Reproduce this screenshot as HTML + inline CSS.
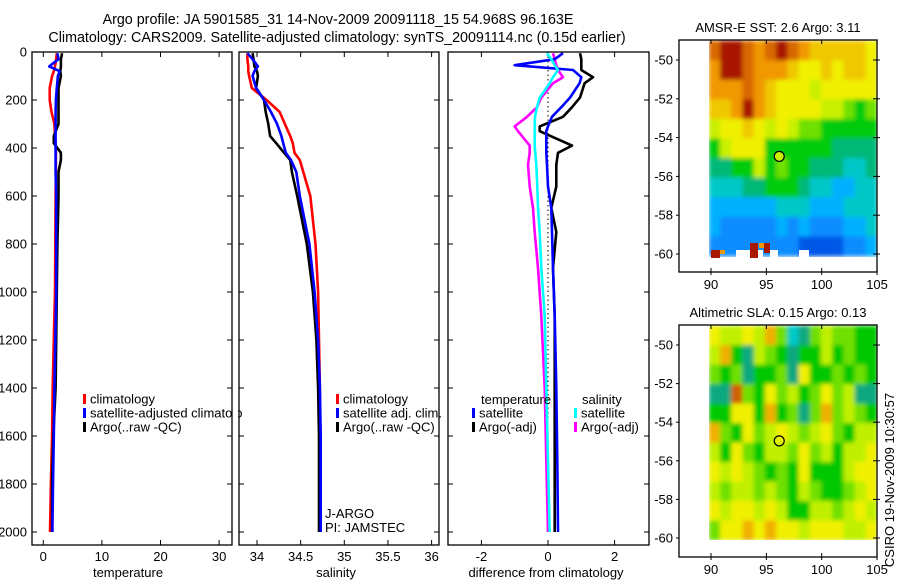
<!DOCTYPE html>
<html><head><meta charset="utf-8"><style>
body{margin:0;background:#fff}
svg{display:block;font-family:"Liberation Sans",sans-serif}
text{font-size:13px;fill:#000}
.ttl{font-size:14.3px}
</style></head><body>
<svg id="c" width="900" height="580" viewBox="0 0 900 580">
<defs>
<filter id="bl" x="0" y="0" width="1" height="1"><feGaussianBlur stdDeviation="2" edgeMode="duplicate"/></filter>
<clipPath id="cp1"><rect x="709" y="40" width="168" height="217"/></clipPath>
<clipPath id="cp2"><rect x="709" y="325" width="168" height="215"/></clipPath>
</defs>
<text class="ttl" x="338" y="24" text-anchor="middle">Argo profile: JA 5901585_31 14-Nov-2009 20091118_15 54.968S 96.163E</text>
<text class="ttl" x="337" y="42" text-anchor="middle">Climatology: CARS2009. Satellite-adjusted climatology: synTS_20091114.nc (0.15d earlier)</text>
</svg>
<script>
// ---- data ----
const depthTS = [5,30,60,80,100,150,200,250,300,350,380,420,450,500,600,800,1000,1200,1400,1600,1800,2000];
const tempClim = [2.3,2.2,2.0,1.8,1.5,1.1,1.1,1.4,1.9,2.0,2.1,2.15,2.15,2.15,2.1,2.05,2.0,1.8,1.6,1.5,1.3,1.15];
const tempSat  = [2.4,2.6,1.0,2.8,2.5,2.3,2.15,2.1,2.1,2.1,2.1,2.1,2.1,2.1,2.2,2.2,2.2,2.05,1.9,1.8,1.65,1.55];
const tempArgo = [3.2,3.0,3.0,2.9,3.0,2.6,2.6,2.6,2.6,1.8,1.8,3.0,3.0,2.6,2.6,2.4,2.3,2.2,2.1,1.7,1.5,1.5];
const salClim = [33.89,33.89,33.9,33.9,33.91,33.94,34.11,34.26,34.32,34.38,34.41,34.43,34.49,34.53,34.61,34.67,34.70,34.71,34.72,34.72,34.72,34.72];
const salSat  = [33.89,33.95,34.01,33.97,33.95,33.99,34.08,34.16,34.23,34.28,34.30,34.33,34.39,34.45,34.49,34.60,34.66,34.70,34.72,34.73,34.73,34.73];
const salArgo = [33.95,33.96,33.97,34.0,34.01,33.99,34.08,34.1,34.13,34.15,34.22,34.31,34.38,34.40,34.46,34.57,34.64,34.68,34.70,34.71,34.71,34.71];
const depthDiff = [5,30,55,75,105,130,190,230,270,310,330,390,420,470,560,650,750,900,1100,1400,1700,2000];
const diffTempSat  = [0.45,0.2,-1.0,0.75,1.0,0.95,0.66,0.4,0.12,0.0,-0.05,-0.05,-0.05,-0.03,0.0,0.1,0.12,0.15,0.2,0.25,0.28,0.3];
const diffTempArgo = [0.96,1.0,1.0,1.0,1.35,1.1,0.96,0.72,0.45,-0.25,-0.25,0.72,0.3,0.25,0.25,0.1,0.25,0.15,0.2,0.2,0.2,0.2];
const diffSalSat   = [-0.03,0.1,0.2,0.3,0.15,0.05,-0.25,-0.33,-0.39,-0.4,-0.4,-0.4,-0.38,-0.35,-0.32,-0.3,-0.25,-0.2,-0.1,-0.05,0.0,0.05];
const diffSalArgo  = [0.15,0.2,0.25,0.3,0.45,0.15,-0.2,-0.33,-0.63,-1.0,-0.9,-0.55,-0.55,-0.6,-0.55,-0.45,-0.4,-0.3,-0.2,-0.1,-0.05,0.0];
const depthTicks = [0,200,400,600,800,1000,1200,1400,1600,1800,2000];
const tempTicks = [0,10,20,30];
const salTicks = [34,34.5,35,35.5,36];
const salTickLabels = ["34","34.5","35","35.5","36"];
const diffTicks = [-2,0,2];
const lonTicks = [90,95,100,105];
const latTicks = [50,52,54,56,58,60];
const sstGrid = [
[11,12,12,11,10,11,12,11,10,9,9,9,9,9,8],
[10,12,12,11,10,10,10,9,8,8,9,8,9,9,8],
[10,10,10,11,10,9,8,8,8,7,8,8,8,8,8],
[9,9,10,12,10,9,8,8,8,8,7,7,6,5,6],
[7,8,8,9,8,7,8,7,6,6,5,5,5,5,5],
[5,7,8,8,8,5,5,5,5,5,5,4,4,4,4],
[4,4,5,5,7,5,6,5,5,4,4,4,3,3,4],
[3,3,3,4,4,5,5,5,4,3,3,2,2,3,3],
[2,2,2,2,2,2,3,3,3,2,2,2,3,3,3],
[2,1,1,1,1,1,2,1,2,1,1,1,2,2,3],
[1,1,1,1,1,1,1,1,0,0,0,0,1,1,2]];
const slaGrid = [
[5,4,4,5,4,6,3,0,1,3,4,3,3,2,2],
[4,6,2,1,4,3,2,1,2,2,4,2,3,2,2],
[3,2,3,1,2,2,3,1,5,2,2,3,2,3,2],
[1,1,7,3,2,5,3,4,2,3,5,3,4,1,1],
[2,2,5,5,2,6,2,3,1,3,6,3,4,3,2],
[6,3,2,5,3,4,5,4,3,4,5,3,2,4,4],
[4,2,5,3,2,4,4,3,5,3,4,2,4,4,5],
[5,4,5,4,3,2,3,2,5,2,2,2,4,5,5],
[4,3,4,4,3,4,3,2,4,3,2,2,3,4,5],
[5,4,5,5,4,5,4,2,2,4,4,3,4,5,4],
[3,5,5,6,5,6,5,5,4,5,5,5,4,4,5]];
const sstColors = ["#0058e8","#0a8cff","#00b0ff","#00c8c8","#00b878","#00cc10","#70e000","#c8f000","#f0f000","#f0c800","#f09800","#d86800","#a81800"];
const slaColors = ["#00c8c8","#10a880","#00c800","#70e000","#c0f000","#f0f000","#f0b000","#d06000"];

// ---- helpers ----
const S = document.getElementById('c');
const NS = 'http://www.w3.org/2000/svg';
function mk(tag, attrs, parent){const e=document.createElementNS(NS,tag);for(const k in attrs)e.setAttribute(k,attrs[k]);(parent||S).appendChild(e);return e;}
const yDepth = d => 52 + d*0.24;
const xTemp = t => 43.3 + t*5.86;
const xSal = s => 257 + (s-34)*87.3;
const xDiff = v => 548 + v*33.3;

function frame(x0,x1,y0,y1,name){
  const r=mk('rect',{x:x0,y:y0,width:x1-x0,height:y1-y0,fill:'none',stroke:'#000','stroke-width':1.3});
  
  
}
function line(pts,color,name){
  const p=mk('polyline',{points:pts.map(q=>q[0].toFixed(1)+','+q[1].toFixed(1)).join(' '),fill:'none',stroke:color,'stroke-width':2.6,'stroke-linejoin':'round'});
  
  
}
function txt(x,y,s,anchor,name){
  const t=mk('text',{x:x,y:y,'text-anchor':anchor||'start'});t.textContent=s;
  
  
  return t;
}
function tick(x1,y1,x2,y2){mk('line',{x1:x1,y1:y1,x2:x2,y2:y2,stroke:'#000','stroke-width':1});}

// ---- profile panels ----
const panels=[{x0:32,x1:232,fx:xTemp,ticks:tempTicks,labels:tempTicks.map(String),title:'temperature',tx:128},
  {x0:239,x1:439,fx:xSal,ticks:salTicks,labels:salTickLabels,title:'salinity',tx:336},
  {x0:448,x1:649,fx:xDiff,ticks:diffTicks,labels:["-2","0","2"],title:'difference from climatology',tx:546}];
const y0=52,y1=545;
panels.forEach((p,i)=>{
  p.ticks.forEach((v,j)=>{const x=p.fx(v);tick(x,y0,x,y0+5);tick(x,y1,x,y1-5);
    txt(x,561,p.labels[j],'middle','x-tick-label');});
  depthTicks.forEach(d=>{const y=yDepth(d);tick(p.x0,y,p.x0+5,y);tick(p.x1,y,p.x1-5,y);});
  txt(p.tx,577,p.title,'middle','x-axis-title');
});
depthTicks.forEach(d=>{txt(27,yDepth(d)+4.5,String(d),'end','depth-tick-label');});

const z=mk('line',{x1:xDiff(0),y1:yDepth(0),x2:xDiff(0),y2:yDepth(2000),stroke:'#000','stroke-width':1,'stroke-dasharray':'1.5,3'});



line(depthTS.map((d,i)=>[xTemp(tempClim[i]),yDepth(d)]),'#ff0000','temp-climatology-line');
line(depthTS.map((d,i)=>[xTemp(tempArgo[i]),yDepth(d)]),'#000','temp-argo-line');
line(depthTS.map((d,i)=>[xTemp(tempSat[i]),yDepth(d)]),'#0000ff','temp-satellite-line');
line(depthTS.map((d,i)=>[xSal(salClim[i]),yDepth(d)]),'#ff0000','sal-climatology-line');
line(depthTS.map((d,i)=>[xSal(salArgo[i]),yDepth(d)]),'#000','sal-argo-line');
line(depthTS.map((d,i)=>[xSal(salSat[i]),yDepth(d)]),'#0000ff','sal-satellite-line');
line(depthDiff.map((d,i)=>[xDiff(diffTempArgo[i]),yDepth(d)]),'#000','diff-temp-argo-line');
line(depthDiff.map((d,i)=>[xDiff(diffSalArgo[i]),yDepth(d)]),'#ff00ff','diff-sal-argo-line');
line(depthDiff.map((d,i)=>[xDiff(diffTempSat[i]),yDepth(d)]),'#0000ff','diff-temp-satellite-line');
line(depthDiff.map((d,i)=>[xDiff(diffSalSat[i]),yDepth(d)]),'#00ffff','diff-sal-satellite-line');

panels.forEach((p,i)=>frame(p.x0,p.x1,y0,y1,'profile-panel-frame'));

function legend(x,y,items){
  items.forEach((it,k)=>{
    const yy=y+k*14;
    if(it[0]){const r=mk('rect',{x:x,y:yy-10,width:3,height:10,fill:it[0]});
      
      }
    txt(x+7,yy-0.5,it[1],'start','legend-entry');
  });
}
legend(83,404,[['#ff0000','climatology'],['#0000ff','satellite-adjusted climatolo'],['#000','Argo(..raw -QC)']]);
mk('rect',{x:233,y:395,width:5,height:40,fill:'#fff'});
legend(336,404,[['#ff0000','climatology'],['#0000ff','satellite adj. clim.'],['#000','Argo(..raw -QC)']]);
txt(325,518,'J-ARGO','start','data-centre-label');
txt(325,532,'PI: JAMSTEC','start','pi-label');
txt(481,404,'temperature','start','legend-heading-temperature');
legend(472,418,[['#0000ff','satellite'],['#000','Argo(-adj)']]);
txt(582,404,'salinity','start','legend-heading-salinity');
legend(574,418,[['#00ffff','satellite'],['#ff00ff','Argo(-adj)']]);

// ---- maps ----
function map(top,bot,lat50,lat60,grid,colors,title,name,clip){
  const mx0=679,mx1=877;
  const xl=lon=>711+(lon-90)*11.07;
  const yl=lat=>lat50+(lat-50)*(lat60-lat50)/10;
  const outer=mk('g',{'clip-path':'url(#'+clip+')'});
  const g=mk('g',{filter:'url(#bl)'},outer);
  
  
  const nr=grid.length,nc=grid[0].length;
  const lonA=89.8,lonB=105,latA=49,latB=60.1;
  const cw=(xl(lonB)-xl(lonA))/nc,ch=(yl(latB)-yl(latA))/nr;
  grid.forEach((row,r)=>row.forEach((v,c)=>{
    const e=mk('rect',{x:(xl(lonA)+c*cw).toFixed(2),y:(yl(latA)+r*ch).toFixed(2),width:(cw+0.6).toFixed(2),height:(ch+0.6).toFixed(2),fill:colors[v]},g);
    
    
  }));
  const fr=mk('rect',{x:mx0,y:top,width:mx1-mx0,height:bot-top,fill:'none',stroke:'#000','stroke-width':1.3});
  
  
  lonTicks.forEach(l=>{const x=xl(l);tick(x,top,x,top+4);tick(x,bot,x,bot-4);tick(x,bot,x,bot+3);txt(x,bot+17,String(l),'middle','lon-tick-label');});
  latTicks.forEach(l=>{const y=yl(l);tick(mx0,y,mx0-3,y);tick(mx1,y,mx1-4,y);tick(mx1,y,mx1+3,y);txt(673,y+4.5,'-'+l,'end','lat-tick-label');});
  const c=mk('circle',{cx:xl(96.163),cy:yl(54.968),r:5,fill:name==='sst-map'?colors[7]:'none',stroke:'#000','stroke-width':1.2});
  
  
  txt(778,top-8,title,'middle',name+'-title');
}
map(40,272,60,254,sstGrid,sstColors,'AMSR-E SST: 2.6 Argo: 3.11','sst-map','cp1');
map(325,557,345,538,slaGrid,slaColors,'Altimetric SLA: 0.15 Argo: 0.13','sla-map','cp2');
[[711,250,9,8,'#a81800'],[720,250,5,4,'#f09800'],[742,250,14,8,'#fff'],[758,250,5,8,'#fff'],[736,250,6,8,'#fff'],[750,243,8,15,'#a81800'],[759,243,5,5,'#f09800'],[764,243,6,10,'#a81800'],[799,250,10,8,'#fff'],[770,250,8,8,'#fff']].forEach(b=>{
  const r=mk('rect',{x:b[0],y:b[1],width:b[2],height:b[3],fill:b[4]});
  
  
});
const cs=txt(0,0,'CSIRO 19-Nov-2009 10:30:57','middle','timestamp-label');
cs.setAttribute('transform','translate(894,480) rotate(-90)');
</script>
</body></html>
